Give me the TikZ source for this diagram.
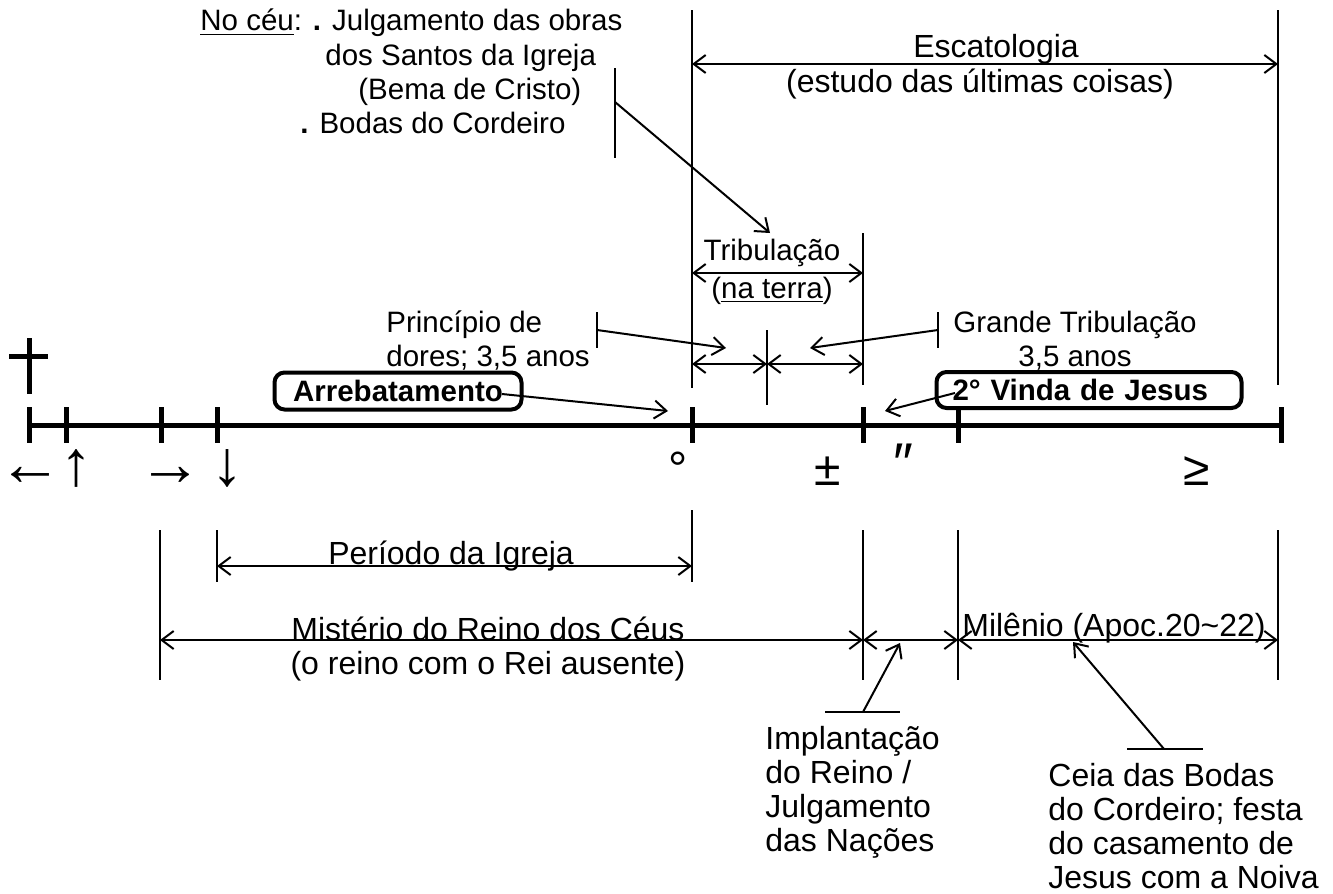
\documentclass[tikz,border=0pt]{standalone}
\usepackage{fontspec}
\setmainfont{Liberation Sans}
\usetikzlibrary{arrows.meta}

\tikzset{
  texto/.style={inner sep=0pt, font=\fontsize{14.75pt}{17pt}\selectfont},
  textoG/.style={inner sep=0pt, font=\fontsize{16pt}{17pt}\selectfont},
  simbolo/.style={inner sep=0pt, anchor=base, font=\fontsize{32pt}{32pt}\selectfont},
  simboloP/.style={inner sep=0pt, anchor=base, font=\fontsize{24pt}{24pt}\selectfont},
  caixa/.style={draw, line width=2pt, rounded corners=5pt, inner xsep=8pt, inner ysep=0pt,
    font=\fontsize{14.75pt}{17pt}\selectfont\bfseries},
  eixo/.style={line width=2.5pt},
  fina/.style={line width=1pt},
  seta/.style={fina, ->},
  dupla/.style={fina, <->},
}

\begin{document}
\begin{tikzpicture}[x=0.5pt, y=-0.5pt, >={Straight Barb[length=6pt,width=9pt]}]
    \useasboundingbox (0,0) rectangle (1333,894);

    % linha do tempo
    \coordinate (inicio) at (29,425);
    \coordinate (fim) at (1281,425);
    \draw[eixo] (inicio) -- (fim);
    \foreach \n/\x in {m1/29, m2/66, m3/161, m4/217, m5/692, m6/863, m7/958, m8/1281}
        {
            \coordinate (\n) at (\x,425);
            \draw[eixo] ([yshift=9pt]\n) -- ([yshift=-9pt]\n);
        }

    % cruz
    \coordinate (cruzA) at (29,338);
    \coordinate (cruzB) at (29,394);
    \coordinate (cruzC) at (9,356);
    \coordinate (cruzD) at (48,356);
    \draw[eixo] (cruzA) -- (cruzB);
    \draw[eixo] (cruzC) -- (cruzD);

    % simbolos sob a linha
    \foreach \n/\x/\s in {s1/30/←, s2/76/↑, s3/170/→, s4/227/↓}
        {
            \node[simbolo] (\n) at (\x,485) {\s};
        }
    \foreach \n/\x/\s in {s5/678/°, s6/828/±, s8/1197/≥}
        {
            \node[simboloP] (\n) at (\x,485) {\s};
        }
    \node[simboloP, font=\fontsize{28pt}{28pt}\selectfont] (s7) at (903,482) {″};

    % barras verticais
    \foreach \x/\a/\b in {692/10/388, 1278/10/385, 863/233/385, 767/330/405,
                          692/510/582, 217/530/582, 160/530/680, 863/530/680,
                          958/530/680, 1278/530/680, 615/68/158, 597/312/348, 938/312/348}
        {
            \draw[fina] (\x,\a) -- (\x,\b);
        }

    % escatologia
    \coordinate (escE) at (692,64);
    \coordinate (escD) at (1278,64);
    \draw[dupla] (escE) -- (escD);
    \node[textoG, anchor=base] (esc) at (996,57) {Escatologia};
    \node[textoG, anchor=base] (escSub) at (980,92) {(estudo das últimas coisas)};

    % tribulacao
    \coordinate (tribE) at (692,273);
    \coordinate (tribD) at (863,273);
    \draw[dupla] (tribE) -- (tribD);
    \node[texto, anchor=base] (trib) at (772,260) {Tribulação};
    \node[texto, anchor=base] (tribSub) at (772,298) {(\underline{na terra})};
    \coordinate (metE) at (692,364);
    \coordinate (metM) at (767,364);
    \coordinate (metD) at (863,364);
    \draw[dupla] (metE) -- (metM);
    \draw[dupla] (metM) -- (metD);

    % no ceu
    \node[texto, anchor=base west] (ceuA) at (200,31) {\underline{No céu}: \textbf{.} Julgamento das obras};
    \node[texto, anchor=base west] (ceuB) at (325,65) {dos Santos da Igreja};
    \node[texto, anchor=base west] (ceuC) at (358,99) {(Bema de Cristo)};
    \node[texto, anchor=base west] (ceuD) at (300,133) {\textbf{.} Bodas do Cordeiro};
    \coordinate (ceuM) at (615,102);
    \coordinate (ceuPonta) at (770,233);
    \draw[seta] (ceuM) -- (ceuPonta);

    % principio de dores e grande tribulacao
    \node[texto, align=left, anchor=west] (principio) at (386,341) {Princípio de\\dores; 3,5 anos};
    \node[texto, align=center] (grande) at (1075,341) {Grande Tribulação\\3,5 anos};
    \coordinate (princM) at (597,330);
    \coordinate (princPonta) at (726,348);
    \draw[seta] (princM) -- (princPonta);
    \coordinate (grM) at (938,330);
    \coordinate (grPonta) at (810,348);
    \draw[seta] (grM) -- (grPonta);

    % caixas
    \node[caixa, minimum width=123.5pt, minimum height=18.5pt] (arrebat) at (398,391) {Arrebatamento};
    \node[caixa, text width=136.5pt, minimum height=18pt, align=left] (vinda) at (1089,390) {2° Vinda de Jesus};
    \coordinate (arrebatIni) at (502,394);
    \coordinate (arrebatPonta) at (668,411);
    \draw[seta] (arrebatIni) -- (arrebatPonta);
    \coordinate (vindaIni) at (955,393);
    \coordinate (vindaPonta) at (885,411);
    \draw[seta] (vindaIni) -- (vindaPonta);

    % periodos abaixo da linha
    \coordinate (perE) at (217,566);
    \coordinate (perD) at (692,566);
    \draw[dupla] (perE) -- (perD);
    \node[textoG, anchor=base] (periodo) at (451,564) {Período da Igreja};
    \coordinate (misE) at (160,640);
    \coordinate (misD) at (863,640);
    \coordinate (impD) at (958,640);
    \coordinate (milD) at (1278,640);
    \draw[dupla] (misE) -- (misD);
    \draw[dupla] (misD) -- (impD);
    \draw[dupla] (impD) -- (milD);
    \node[textoG, anchor=base] (misterio) at (488,640) {Mistério do Reino dos Céus};
    \node[textoG, anchor=base] (misterioSub) at (488,674) {(o reino com o Rei ausente)};
    \node[textoG, anchor=base] (milenio) at (1114,636) {Milênio (Apoc.20\textasciitilde22)};

    % implantacao do reino
    \coordinate (impA) at (825,712);
    \coordinate (impB) at (900,712);
    \coordinate (impM) at (863,712);
    \coordinate (impPonta) at (900,643);
    \draw[fina] (impA) -- (impB);
    \draw[seta] (impM) -- (impPonta);
    \node[textoG, align=left, anchor=west] (implant) at (765,792) {Implantação\\do Reino /\\Julgamento\\das Nações};

    % ceia das bodas
    \coordinate (ceiaA) at (1127,749);
    \coordinate (ceiaB) at (1203,749);
    \coordinate (ceiaM) at (1164,749);
    \coordinate (ceiaPonta) at (1073,642);
    \draw[fina] (ceiaA) -- (ceiaB);
    \draw[seta] (ceiaM) -- (ceiaPonta);
    \node[textoG, align=left, anchor=west] (ceia) at (1048,826) {Ceia das Bodas\\do Cordeiro; festa\\do casamento de\\Jesus com a Noiva};
\end{tikzpicture}
\end{document}
